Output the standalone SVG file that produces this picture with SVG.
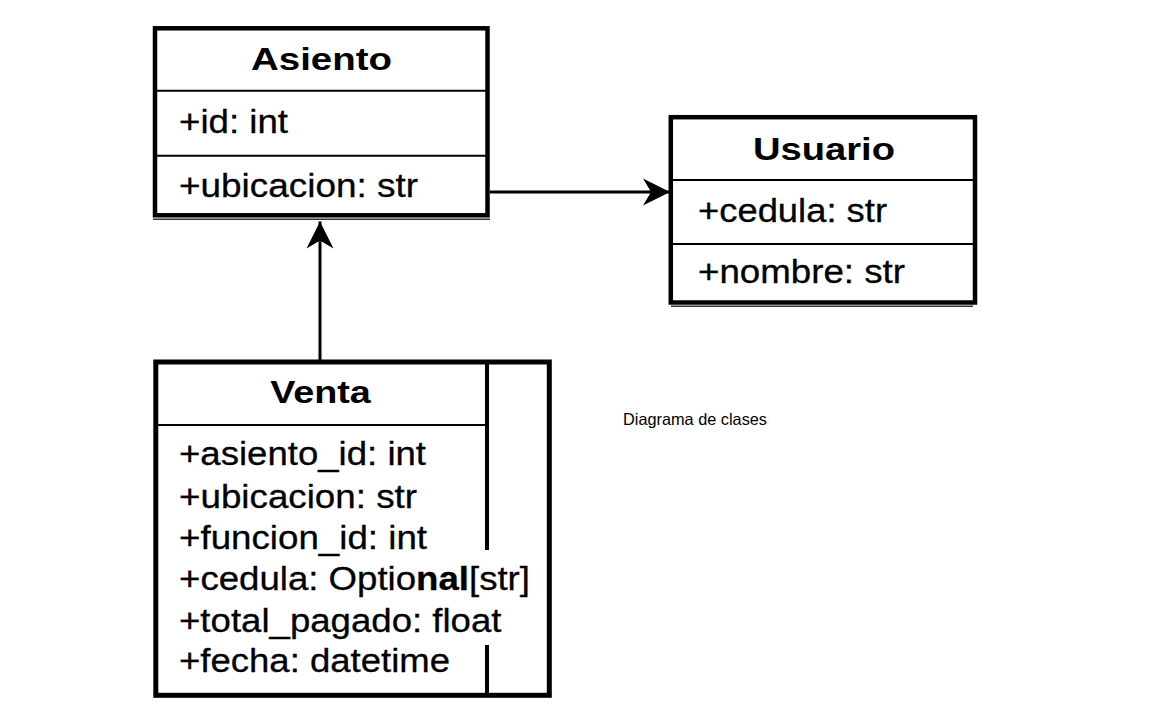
<svg xmlns="http://www.w3.org/2000/svg" width="1152" height="708" viewBox="0 0 1152 708">
  <style>
    .box { fill: #ffffff; stroke: #000000; stroke-width: 4.5; }
    .div { stroke: #000000; stroke-width: 2; fill: none; }
    .shadow { stroke: #333333; stroke-width: 1.5; fill: none; }
    .title { font-family: "Liberation Sans", Arial, sans-serif; font-weight: bold; font-size: 32px; fill: #000000; text-anchor: middle; }
    .attr { font-family: "Liberation Sans", Arial, sans-serif; font-size: 34px; fill: #000000; stroke: #000000; stroke-width: 0.3; }
    .note { font-family: "Liberation Sans", Arial, sans-serif; font-size: 16.5px; fill: #000000; }
    .conn { stroke: #000000; stroke-width: 3; fill: none; marker-end: url(#arrow); }
  </style>
  <defs>
    <marker id="arrow" viewBox="0 0 28 28" refX="27" refY="14" markerWidth="28" markerHeight="28" markerUnits="userSpaceOnUse" orient="auto">
      <path d="M27,14 L0,0.5 L8,14 L0,27.5 Z" fill="#000000"/>
    </marker>
  </defs>
  <rect x="0" y="0" width="1152" height="708" fill="#ffffff"/>

  <g id="Asiento">
    <line class="shadow" x1="153" y1="219.3" x2="490" y2="219.3"/>
    <rect class="box" x="155" y="28.3" width="332.5" height="187"/>
    <line class="div" x1="155" y1="90.7" x2="487.5" y2="90.7"/>
    <line class="div" x1="155" y1="155.7" x2="487.5" y2="155.7"/>
    <text class="title" x="321.5" y="70" textLength="141" lengthAdjust="spacingAndGlyphs">Asiento</text>
    <text class="attr" x="179" y="133.3" textLength="109" lengthAdjust="spacingAndGlyphs">+id: int</text>
    <text class="attr" x="179" y="196.7" textLength="239" lengthAdjust="spacingAndGlyphs">+ubicacion: str</text>
  </g>

  <g id="Usuario">
    <line class="shadow" x1="671" y1="306.2" x2="973" y2="306.2"/>
    <rect class="box" x="670.8" y="117.2" width="304.2" height="185.3"/>
    <line class="div" x1="670.8" y1="180" x2="975" y2="180"/>
    <line class="div" x1="670.8" y1="244" x2="975" y2="244"/>
    <text class="title" x="824" y="160" textLength="142" lengthAdjust="spacingAndGlyphs">Usuario</text>
    <text class="attr" x="698" y="221.7" textLength="189" lengthAdjust="spacingAndGlyphs">+cedula: str</text>
    <text class="attr" x="698" y="283.3" textLength="207" lengthAdjust="spacingAndGlyphs">+nombre: str</text>
  </g>

  <g id="Venta">
    <rect class="box" x="155.8" y="362" width="393.5" height="333.3" style="stroke-width:5"/>
    <line class="div" x1="155.8" y1="425" x2="487" y2="425"/>
    <line x1="487" y1="362" x2="487" y2="550" stroke="#000000" stroke-width="4"/>
    <line x1="487" y1="645" x2="487" y2="695" stroke="#000000" stroke-width="4"/>
    <text class="title" x="320.5" y="403" textLength="100.7" lengthAdjust="spacingAndGlyphs">Venta</text>
    <text class="attr" x="179" y="465" textLength="247" lengthAdjust="spacingAndGlyphs">+asiento_id: int</text>
    <text class="attr" x="179" y="508.3" textLength="238" lengthAdjust="spacingAndGlyphs">+ubicacion: str</text>
    <text class="attr" x="179" y="549" textLength="248" lengthAdjust="spacingAndGlyphs">+funcion_id: int</text>
    <text class="attr" x="179" y="590" textLength="351" lengthAdjust="spacingAndGlyphs">+cedula: Optio<tspan font-weight="bold">nal</tspan>[str]</text>
    <text class="attr" x="179" y="631.7" textLength="322.5" lengthAdjust="spacingAndGlyphs">+total_pagado: float</text>
    <text class="attr" x="179" y="671.7" textLength="271" lengthAdjust="spacingAndGlyphs">+fecha: datetime</text>
  </g>

  <g id="connectors">
    <line class="conn" x1="490" y1="192" x2="670" y2="192"/>
    <line class="conn" x1="320" y1="360" x2="320" y2="221.5"/>
  </g>

  <g id="caption">
    <text class="note" x="623" y="425" textLength="144" lengthAdjust="spacingAndGlyphs">Diagrama de clases</text>
  </g>
</svg>
